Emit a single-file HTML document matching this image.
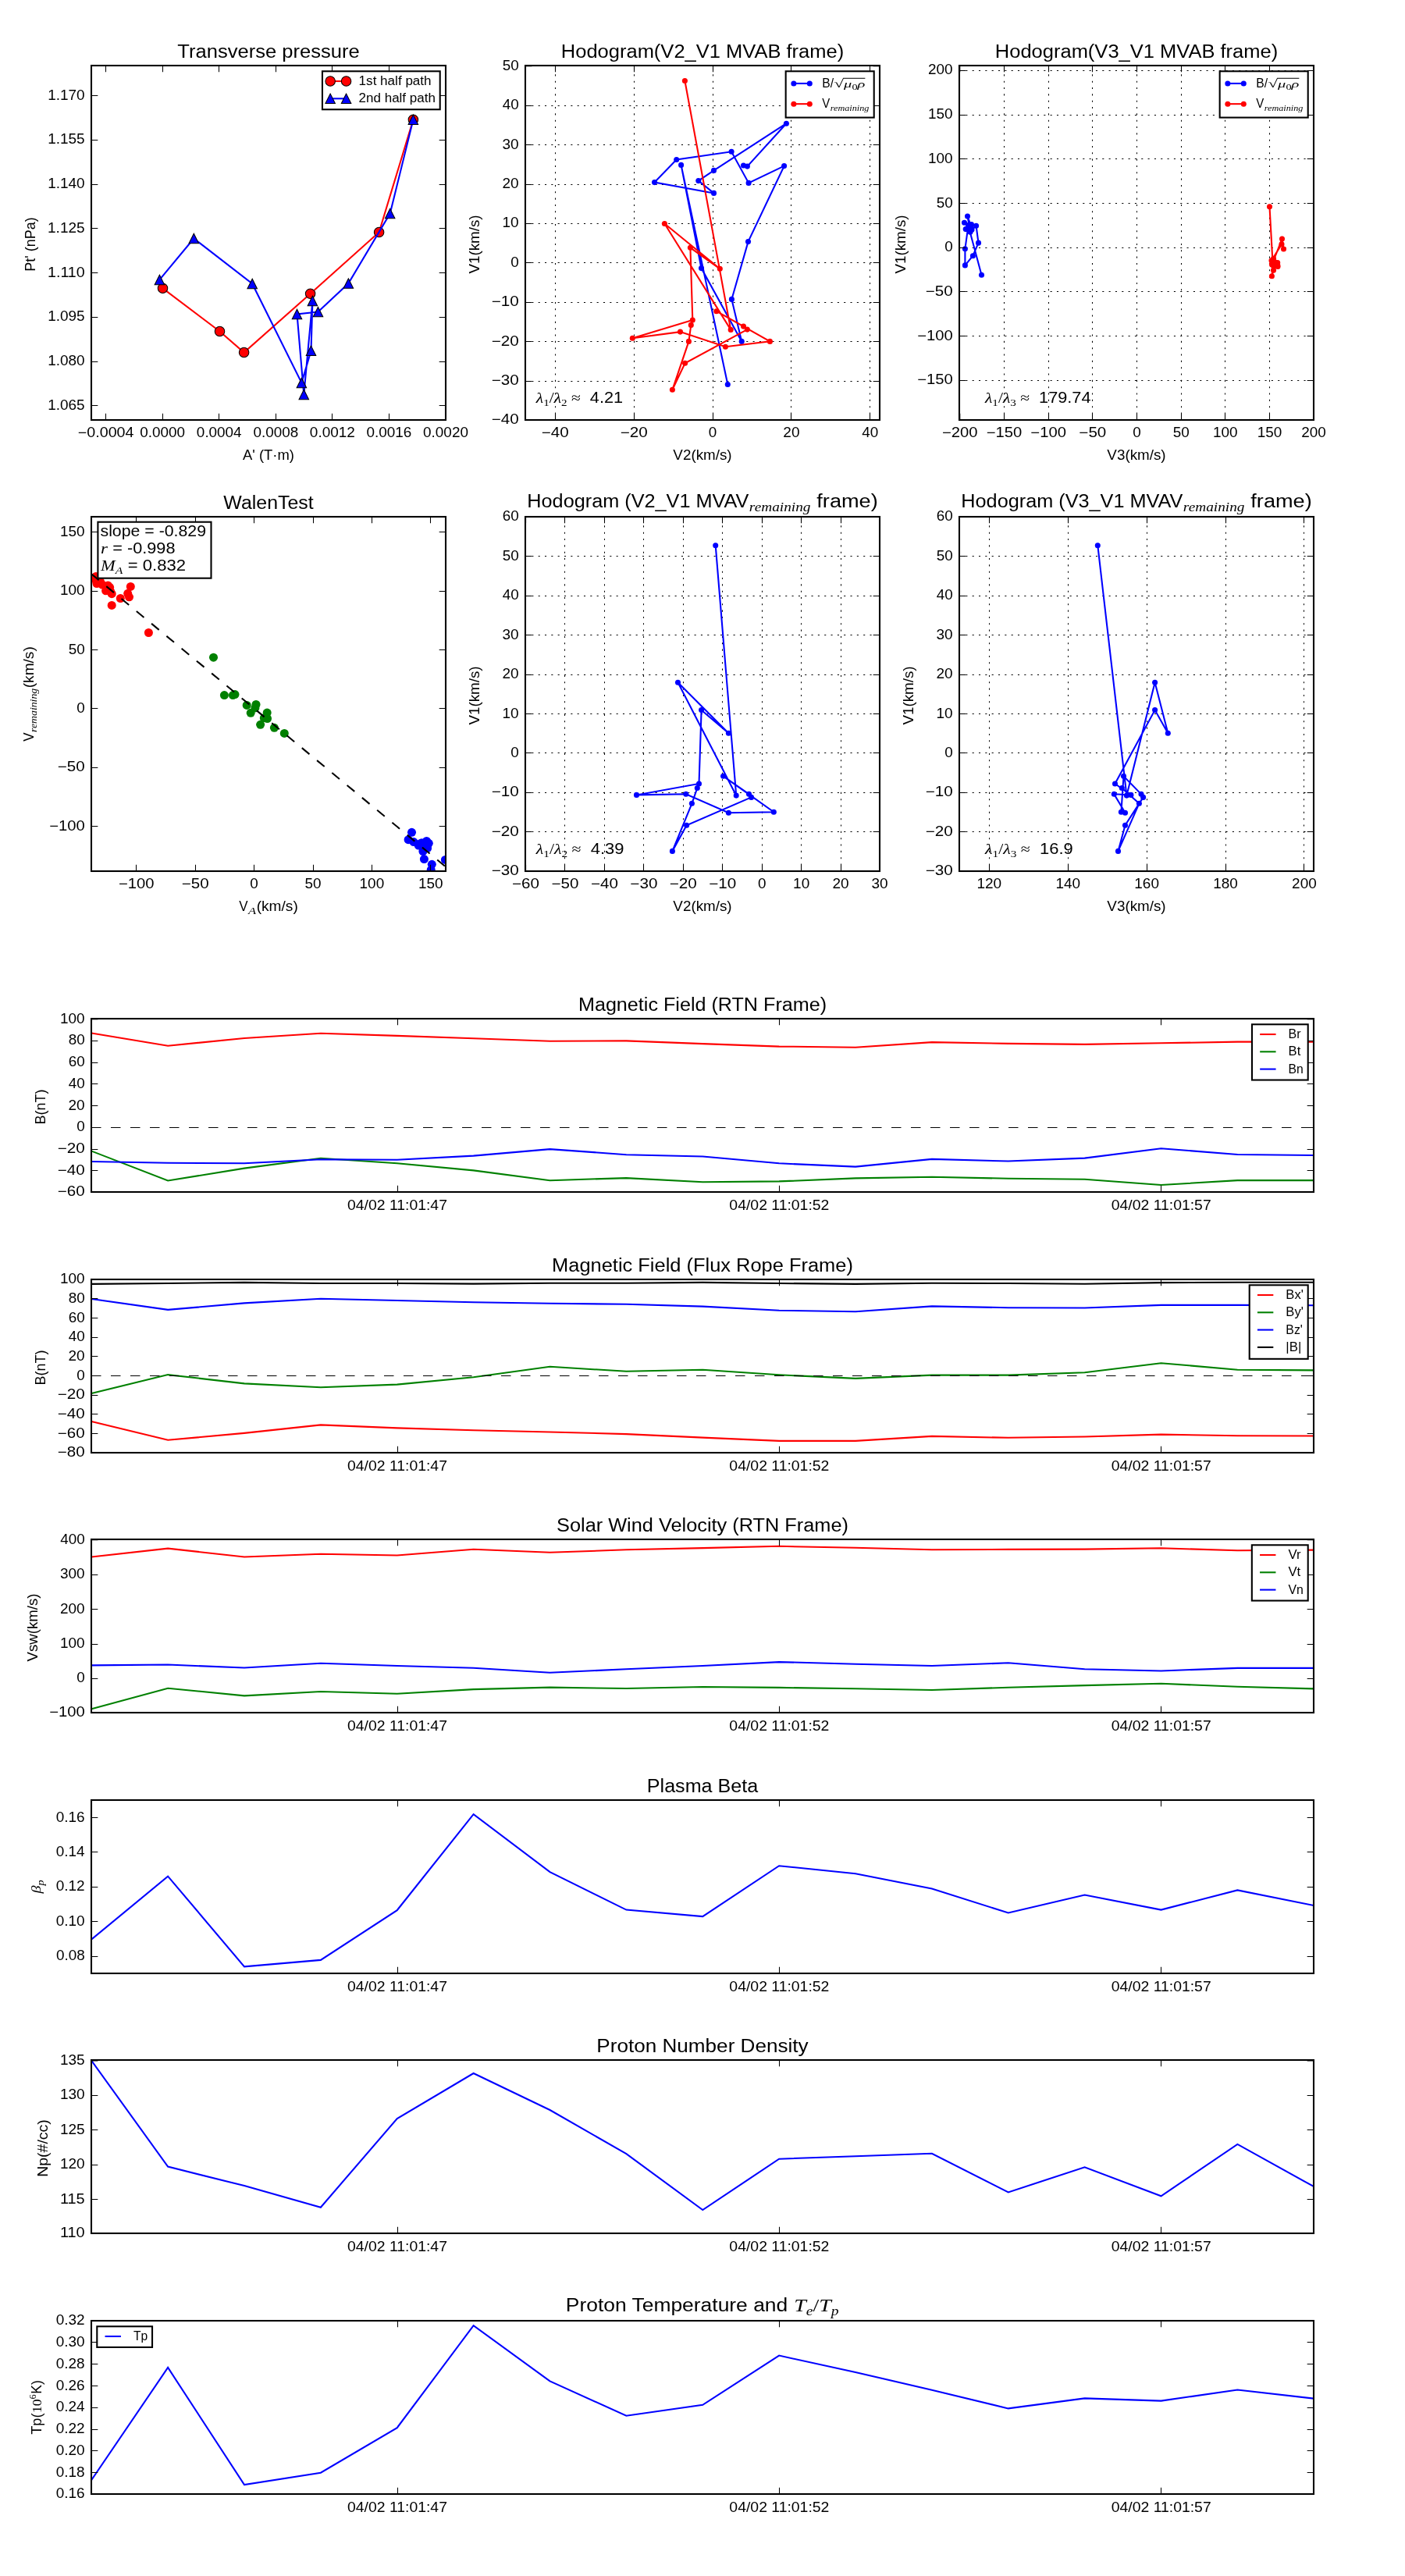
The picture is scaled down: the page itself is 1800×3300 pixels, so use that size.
<!DOCTYPE html>
<html><head><meta charset="utf-8"><title>Flux rope analysis</title>
<style>
html,body{margin:0;padding:0;background:#fff}
svg{display:block;will-change:transform}
text{font-family:"Liberation Sans",sans-serif;fill:#000;white-space:pre}
.mi{font-family:"Liberation Serif",serif;font-style:italic}
.mr{font-family:"Liberation Serif",serif}
path{fill:none}
g[fill] path{fill:inherit}
</style></head><body>
<svg width="1800" height="3300" viewBox="0 0 1800 3300">
<rect width="1800" height="3300" fill="#fff"/>
<defs>
<clipPath id="cp1"><rect x="117" y="84" width="454" height="454"/></clipPath>
<clipPath id="cp2"><rect x="673" y="84" width="454" height="454"/></clipPath>
<clipPath id="cp3"><rect x="1229" y="84" width="454" height="454"/></clipPath>
<clipPath id="cp4"><rect x="117" y="662" width="454" height="454"/></clipPath>
<clipPath id="cp5"><rect x="673" y="662" width="454" height="454"/></clipPath>
<clipPath id="cp6"><rect x="1229" y="662" width="454" height="454"/></clipPath>
<clipPath id="ct1"><rect x="117" y="1305" width="1566" height="222"/></clipPath>
<clipPath id="ct2"><rect x="117" y="1639" width="1566" height="222"/></clipPath>
<clipPath id="ct3"><rect x="117" y="1972" width="1566" height="222"/></clipPath>
<clipPath id="ct4"><rect x="117" y="2306" width="1566" height="222"/></clipPath>
<clipPath id="ct5"><rect x="117" y="2639" width="1566" height="222"/></clipPath>
<clipPath id="ct6"><rect x="117" y="2973" width="1566" height="222"/></clipPath>
</defs>
<g id="p1">
<g clip-path="url(#cp1)"><path d="M208.5 369.3L281.5 424.5L312.6 451.5L397.6 376.2L485.6 297.5L529.4 153.3" stroke="#f00" stroke-width="2.08"/><g fill="#f00" stroke="#000" stroke-width="1.04"><circle cx="208.5" cy="369.3" r="6.25"/><circle cx="281.5" cy="424.5" r="6.25"/><circle cx="312.6" cy="451.5" r="6.25"/><circle cx="397.6" cy="376.2" r="6.25"/><circle cx="485.6" cy="297.5" r="6.25"/><circle cx="529.4" cy="153.3" r="6.25"/></g></g>
<g clip-path="url(#cp1)"><path d="M204.4 358.4L248.3 305.5L323.2 363.5L386.4 490.4L398.5 449.3L400.4 385.5L389.3 505.4L380.5 402.4L407.5 399.6L446.4 363.1L499.7 273.6L529.4 153.3" stroke="#00f" stroke-width="2.08"/><g fill="#00f" stroke="#000" stroke-width="1.04"><path d="M204.4 352.15L198.15 364.65L210.65 364.65Z"/><path d="M248.3 299.25L242.05 311.75L254.55 311.75Z"/><path d="M323.2 357.25L316.95 369.75L329.45 369.75Z"/><path d="M386.4 484.15L380.15 496.65L392.65 496.65Z"/><path d="M398.5 443.05L392.25 455.55L404.75 455.55Z"/><path d="M400.4 379.25L394.15 391.75L406.65 391.75Z"/><path d="M389.3 499.15L383.05 511.65L395.55 511.65Z"/><path d="M380.5 396.15L374.25 408.65L386.75 408.65Z"/><path d="M407.5 393.35L401.25 405.85L413.75 405.85Z"/><path d="M446.4 356.85L440.15 369.35L452.65 369.35Z"/><path d="M499.7 267.35L493.45 279.85L505.95 279.85Z"/><path d="M529.4 147.05L523.15 159.55L535.65 159.55Z"/></g></g>
<rect x="117" y="84" width="454" height="454" fill="none" stroke="#000" stroke-width="2.08"/>
<path d="M135.5 538v-8.33M135.5 84v8.33M208.5 538v-8.33M208.5 84v8.33M280.5 538v-8.33M280.5 84v8.33M353.5 538v-8.33M353.5 84v8.33M425.5 538v-8.33M425.5 84v8.33M498.5 538v-8.33M498.5 84v8.33M571 538v-8.33M571 84v8.33M117 519.5h8.33M571 519.5h-8.33M117 463.5h8.33M571 463.5h-8.33M117 406.5h8.33M571 406.5h-8.33M117 349.5h8.33M571 349.5h-8.33M117 292.5h8.33M571 292.5h-8.33M117 236.5h8.33M571 236.5h-8.33M117 179.5h8.33M571 179.5h-8.33M117 122.5h8.33M571 122.5h-8.33" stroke="#000" stroke-width="1.04"/>
<text x="99.83" y="560.33" font-size="17.58" textLength="71.62" lengthAdjust="spacingAndGlyphs">−0.0004</text>
<text x="179.32" y="560.33" font-size="17.58" textLength="57.75" lengthAdjust="spacingAndGlyphs">0.0000</text>
<text x="251.88" y="560.33" font-size="17.58" textLength="57.75" lengthAdjust="spacingAndGlyphs">0.0004</text>
<text x="324.44" y="560.33" font-size="17.58" textLength="57.75" lengthAdjust="spacingAndGlyphs">0.0008</text>
<text x="396.88" y="560.33" font-size="17.58" textLength="58" lengthAdjust="spacingAndGlyphs">0.0012</text>
<text x="469.5" y="560.33" font-size="17.58" textLength="57.88" lengthAdjust="spacingAndGlyphs">0.0016</text>
<text x="542.06" y="560.33" font-size="17.58" textLength="57.88" lengthAdjust="spacingAndGlyphs">0.0020</text>
<text x="61.29" y="524.78" font-size="17.58" textLength="47.38" lengthAdjust="spacingAndGlyphs">1.065</text>
<text x="61.29" y="468.03" font-size="17.58" textLength="47.38" lengthAdjust="spacingAndGlyphs">1.080</text>
<text x="61.29" y="411.28" font-size="17.58" textLength="47.38" lengthAdjust="spacingAndGlyphs">1.095</text>
<text x="61.04" y="354.53" font-size="17.58" textLength="47.62" lengthAdjust="spacingAndGlyphs">1.110</text>
<text x="61.04" y="297.78" font-size="17.58" textLength="47.62" lengthAdjust="spacingAndGlyphs">1.125</text>
<text x="61.17" y="241.03" font-size="17.58" textLength="47.5" lengthAdjust="spacingAndGlyphs">1.140</text>
<text x="61.17" y="184.28" font-size="17.58" textLength="47.5" lengthAdjust="spacingAndGlyphs">1.155</text>
<text x="61.17" y="127.53" font-size="17.58" textLength="47.5" lengthAdjust="spacingAndGlyphs">1.170</text>
<text x="311.06" y="588.75" font-size="17.58" textLength="65.88" lengthAdjust="spacingAndGlyphs">A&#x27; (T·m)</text>
<g transform="translate(45.43 347.69) rotate(-90)">
<text x="0" y="0" font-size="17.58" textLength="69.38" lengthAdjust="spacingAndGlyphs">Pt&#x27; (nPa)</text>
</g>
<text x="227.32" y="73.58" font-size="24.18" textLength="233.37" lengthAdjust="spacingAndGlyphs">Transverse pressure</text>
<rect x="412.96" y="91.29" width="150.75" height="48.96" fill="#fff" stroke="#000" stroke-width="2.08"/>
<path d="M423.17 104.02L443.58 104.02" stroke="#f00" stroke-width="2.08"/>
<g fill="#f00" stroke="#000" stroke-width="1.04"><circle cx="423.17" cy="104.02" r="6.25"/><circle cx="443.58" cy="104.02" r="6.25"/></g>
<path d="M423.17 126.31L443.58 126.31" stroke="#00f" stroke-width="2.08"/>
<g fill="#00f" stroke="#000" stroke-width="1.04"><path d="M423.17 120.06L416.92 132.56L429.42 132.56Z"/><path d="M443.58 120.06L437.33 132.56L449.83 132.56Z"/></g>
<text x="459.62" y="109.12" font-size="17.06" textLength="93" lengthAdjust="spacingAndGlyphs">1st half path</text>
<text x="459.62" y="131.42" font-size="17.06" textLength="98.25" lengthAdjust="spacingAndGlyphs">2nd half path</text>
</g>
<g id="p2">
<path d="M711.5 538.9V84M812.5 538.9V84M913.5 538.9V84M1013.5 538.9V84M1114.5 538.9V84M673 488.5H1127M673 437.5H1127M673 387.5H1127M673 336.5H1127M673 286.5H1127M673 236.5H1127M673 185.5H1127M673 135.5H1127" stroke="#000" stroke-width="1.04" stroke-dasharray="2.08 6.25"/>
<g clip-path="url(#cp2)"><path d="M952.5 212L957.4 213.1L1007.4 158.2L914.5 218.4L894.8 231.6L914.5 247.4L838.5 233.6L866.7 204.5L937.1 194.3L959.1 234.4L1004.6 212.6L958.5 309.6L937.4 383.4L950.2 437.4L898.5 343.6L872.6 211.4L932.3 492.5" stroke="#00f" stroke-width="2.08"/><g fill="#00f"><circle cx="952.5" cy="212" r="3.53"/><circle cx="957.4" cy="213.1" r="3.53"/><circle cx="1007.4" cy="158.2" r="3.53"/><circle cx="914.5" cy="218.4" r="3.53"/><circle cx="894.8" cy="231.6" r="3.53"/><circle cx="914.5" cy="247.4" r="3.53"/><circle cx="838.5" cy="233.6" r="3.53"/><circle cx="866.7" cy="204.5" r="3.53"/><circle cx="937.1" cy="194.3" r="3.53"/><circle cx="959.1" cy="234.4" r="3.53"/><circle cx="1004.6" cy="212.6" r="3.53"/><circle cx="958.5" cy="309.6" r="3.53"/><circle cx="937.4" cy="383.4" r="3.53"/><circle cx="950.2" cy="437.4" r="3.53"/><circle cx="898.5" cy="343.6" r="3.53"/><circle cx="872.6" cy="211.4" r="3.53"/><circle cx="932.3" cy="492.5" r="3.53"/></g></g>
<g clip-path="url(#cp2)"><path d="M885.3 416.4L882.4 437.4L861.4 499.3L877.6 465.3L957.3 422.1L952.5 418.1L917.8 398.7L986.4 437.4L929.4 444.3L871.5 425.1L810.3 433.3L887.3 410.1L884.4 317.3L922.3 344.3L851.4 286.5L936.2 422.4L877.4 103.5" stroke="#f00" stroke-width="2.08"/><g fill="#f00"><circle cx="885.3" cy="416.4" r="3.53"/><circle cx="882.4" cy="437.4" r="3.53"/><circle cx="861.4" cy="499.3" r="3.53"/><circle cx="877.6" cy="465.3" r="3.53"/><circle cx="957.3" cy="422.1" r="3.53"/><circle cx="952.5" cy="418.1" r="3.53"/><circle cx="917.8" cy="398.7" r="3.53"/><circle cx="986.4" cy="437.4" r="3.53"/><circle cx="929.4" cy="444.3" r="3.53"/><circle cx="871.5" cy="425.1" r="3.53"/><circle cx="810.3" cy="433.3" r="3.53"/><circle cx="887.3" cy="410.1" r="3.53"/><circle cx="884.4" cy="317.3" r="3.53"/><circle cx="922.3" cy="344.3" r="3.53"/><circle cx="851.4" cy="286.5" r="3.53"/><circle cx="936.2" cy="422.4" r="3.53"/><circle cx="877.4" cy="103.5" r="3.53"/></g></g>
<rect x="673" y="84" width="454" height="454" fill="none" stroke="#000" stroke-width="2.08"/>
<path d="M711.5 538v-8.33M711.5 84v8.33M812.5 538v-8.33M812.5 84v8.33M913.5 538v-8.33M913.5 84v8.33M1013.5 538v-8.33M1013.5 84v8.33M1114.5 538v-8.33M1114.5 84v8.33M673 538h8.33M1127 538h-8.33M673 488.5h8.33M1127 488.5h-8.33M673 437.5h8.33M1127 437.5h-8.33M673 387.5h8.33M1127 387.5h-8.33M673 336.5h8.33M1127 336.5h-8.33M673 286.5h8.33M1127 286.5h-8.33M673 236.5h8.33M1127 236.5h-8.33M673 185.5h8.33M1127 185.5h-8.33M673 135.5h8.33M1127 135.5h-8.33M673 84.7h8.33M1127 84.7h-8.33" stroke="#000" stroke-width="1.04"/>
<text x="693.86" y="560.33" font-size="17.58" textLength="34.88" lengthAdjust="spacingAndGlyphs">−40</text>
<text x="794.67" y="560.33" font-size="17.58" textLength="35" lengthAdjust="spacingAndGlyphs">−20</text>
<text x="907.8" y="560.33" font-size="17.58" textLength="10.5" lengthAdjust="spacingAndGlyphs">0</text>
<text x="1003.36" y="560.33" font-size="17.58" textLength="21.12" lengthAdjust="spacingAndGlyphs">20</text>
<text x="1104.3" y="560.33" font-size="17.58" textLength="21" lengthAdjust="spacingAndGlyphs">40</text>
<text x="629.79" y="543" font-size="17.58" textLength="34.88" lengthAdjust="spacingAndGlyphs">−40</text>
<text x="629.67" y="493.22" font-size="17.58" textLength="35" lengthAdjust="spacingAndGlyphs">−30</text>
<text x="629.67" y="442.78" font-size="17.58" textLength="35" lengthAdjust="spacingAndGlyphs">−20</text>
<text x="629.67" y="392.34" font-size="17.58" textLength="35" lengthAdjust="spacingAndGlyphs">−10</text>
<text x="654.17" y="341.9" font-size="17.58" textLength="10.5" lengthAdjust="spacingAndGlyphs">0</text>
<text x="643.54" y="291.46" font-size="17.58" textLength="21.12" lengthAdjust="spacingAndGlyphs">10</text>
<text x="643.54" y="241.02" font-size="17.58" textLength="21.12" lengthAdjust="spacingAndGlyphs">20</text>
<text x="643.54" y="190.58" font-size="17.58" textLength="21.12" lengthAdjust="spacingAndGlyphs">30</text>
<text x="643.67" y="140.14" font-size="17.58" textLength="21" lengthAdjust="spacingAndGlyphs">40</text>
<text x="643.67" y="89.7" font-size="17.58" textLength="21" lengthAdjust="spacingAndGlyphs">50</text>
<text x="862.38" y="588.75" font-size="17.58" textLength="75.25" lengthAdjust="spacingAndGlyphs">V2(km/s)</text>
<g transform="translate(614.05 350.62) rotate(-90)">
<text x="0" y="0" font-size="17.58" textLength="75.25" lengthAdjust="spacingAndGlyphs">V1(km/s)</text>
</g>
<text x="718.8" y="73.58" font-size="24.18" textLength="362.4" lengthAdjust="spacingAndGlyphs">Hodogram(V2_V1 MVAB frame)</text>
<text x="686.8" y="515.8" font-size="19.78" textLength="62.48" lengthAdjust="spacingAndGlyphs"><tspan class="mi" font-size="19.12">λ</tspan><tspan class="mr" font-size="13.39" dy="4.21">1</tspan><tspan class="mr" font-size="19.12" dy="-4.21">/</tspan><tspan class="mi" font-size="19.12">λ</tspan><tspan class="mr" font-size="13.39" dy="4.21">2</tspan><tspan class="mr" font-size="19.12" dy="-4.21"> ≈ </tspan></text>
<text x="755.87" y="515.8" font-size="19.78" textLength="42.24" lengthAdjust="spacingAndGlyphs">4.21</text>
<rect x="1006.66" y="91.29" width="113.05" height="59.29" fill="#fff" stroke="#000" stroke-width="2.08"/>
<path d="M1016.87 106.93L1037.29 106.93" stroke="#00f" stroke-width="2.08"/>
<g fill="#00f"><circle cx="1016.87" cy="106.93" r="3.53"/><circle cx="1037.29" cy="106.93" r="3.53"/></g>
<path d="M1016.87 133.16L1037.29 133.16" stroke="#f00" stroke-width="2.08"/>
<g fill="#f00"><circle cx="1016.87" cy="133.16" r="3.53"/><circle cx="1037.29" cy="133.16" r="3.53"/></g>
<text x="1053.33" y="112.04" font-size="17.06" textLength="14.81" lengthAdjust="spacingAndGlyphs">B/</text>
<text x="1068.64" y="112.04" font-size="17.06" textLength="39.75" lengthAdjust="spacingAndGlyphs"><tspan class="mr" font-size="14.88">√</tspan><tspan class="mi" font-size="13.39">μ</tspan><tspan class="mr" font-size="9.37" dy="2.95">0</tspan><tspan class="mi" font-size="13.39" dy="-2.95">ρ</tspan></text><path d="M1080.12 100.29H1108.39" stroke="#000" stroke-width="1"/>
<text x="1053.33" y="138.26" font-size="17.06" textLength="10" lengthAdjust="spacingAndGlyphs">V</text>
<text x="1063.83" y="138.26" font-size="17.06" textLength="49.54" lengthAdjust="spacingAndGlyphs"><tspan class="mi" font-size="10.41" dy="3.27">remaining</tspan></text>
</g>
<g id="p3">
<path d="M1286.5 538.9V84M1343.5 538.9V84M1399.5 538.9V84M1456.5 538.9V84M1513.5 538.9V84M1569.5 538.9V84M1626.5 538.9V84M1229 487.5H1683M1229 430.5H1683M1229 373.5H1683M1229 317.5H1683M1229 260.5H1683M1229 203.5H1683M1229 147.5H1683M1229 90.5H1683" stroke="#000" stroke-width="1.04" stroke-dasharray="2.08 6.25"/>
<g clip-path="url(#cp3)"><path d="M1243 289.22L1244 289.46L1239.5 277.12L1242 290.65L1237.2 293.62L1243 297.17L1241 294.07L1244.5 287.53L1235.5 285.24L1245 294.25L1250.6 289.35L1253.5 311.15L1246.4 327.74L1236.4 339.88L1236.4 318.8L1240.5 289.08L1257.5 352.27" stroke="#00f" stroke-width="2.08"/><g fill="#00f"><circle cx="1243" cy="289.22" r="3.53"/><circle cx="1244" cy="289.46" r="3.53"/><circle cx="1239.5" cy="277.12" r="3.53"/><circle cx="1242" cy="290.65" r="3.53"/><circle cx="1237.2" cy="293.62" r="3.53"/><circle cx="1243" cy="297.17" r="3.53"/><circle cx="1241" cy="294.07" r="3.53"/><circle cx="1244.5" cy="287.53" r="3.53"/><circle cx="1235.5" cy="285.24" r="3.53"/><circle cx="1245" cy="294.25" r="3.53"/><circle cx="1250.6" cy="289.35" r="3.53"/><circle cx="1253.5" cy="311.15" r="3.53"/><circle cx="1246.4" cy="327.74" r="3.53"/><circle cx="1236.4" cy="339.88" r="3.53"/><circle cx="1236.4" cy="318.8" r="3.53"/><circle cx="1240.5" cy="289.08" r="3.53"/><circle cx="1257.5" cy="352.27" r="3.53"/></g></g>
<g clip-path="url(#cp3)"><path d="M1630 335.16L1631 339.88L1629.4 353.79L1631.5 346.15L1636.7 336.44L1633 335.54L1631.5 331.18L1636.8 339.88L1637 341.43L1630 337.12L1629.5 338.96L1629 333.74L1642 312.88L1644.5 318.95L1642.5 305.96L1630.5 336.51L1626.5 264.83" stroke="#f00" stroke-width="2.08"/><g fill="#f00"><circle cx="1630" cy="335.16" r="3.53"/><circle cx="1631" cy="339.88" r="3.53"/><circle cx="1629.4" cy="353.79" r="3.53"/><circle cx="1631.5" cy="346.15" r="3.53"/><circle cx="1636.7" cy="336.44" r="3.53"/><circle cx="1633" cy="335.54" r="3.53"/><circle cx="1631.5" cy="331.18" r="3.53"/><circle cx="1636.8" cy="339.88" r="3.53"/><circle cx="1637" cy="341.43" r="3.53"/><circle cx="1630" cy="337.12" r="3.53"/><circle cx="1629.5" cy="338.96" r="3.53"/><circle cx="1629" cy="333.74" r="3.53"/><circle cx="1642" cy="312.88" r="3.53"/><circle cx="1644.5" cy="318.95" r="3.53"/><circle cx="1642.5" cy="305.96" r="3.53"/><circle cx="1630.5" cy="336.51" r="3.53"/><circle cx="1626.5" cy="264.83" r="3.53"/></g></g>
<rect x="1229" y="84" width="454" height="454" fill="none" stroke="#000" stroke-width="2.08"/>
<path d="M1229.77 538v-8.33M1229.77 84v8.33M1286.5 538v-8.33M1286.5 84v8.33M1343.5 538v-8.33M1343.5 84v8.33M1399.5 538v-8.33M1399.5 84v8.33M1456.5 538v-8.33M1456.5 84v8.33M1513.5 538v-8.33M1513.5 84v8.33M1569.5 538v-8.33M1569.5 84v8.33M1626.5 538v-8.33M1626.5 84v8.33M1683 538v-8.33M1683 84v8.33M1229 487.5h8.33M1683 487.5h-8.33M1229 430.5h8.33M1683 430.5h-8.33M1229 373.5h8.33M1683 373.5h-8.33M1229 317.5h8.33M1683 317.5h-8.33M1229 260.5h8.33M1683 260.5h-8.33M1229 203.5h8.33M1683 203.5h-8.33M1229 147.5h8.33M1683 147.5h-8.33M1229 90.5h8.33M1683 90.5h-8.33" stroke="#000" stroke-width="1.04"/>
<text x="1207.02" y="560.33" font-size="17.58" textLength="45.5" lengthAdjust="spacingAndGlyphs">−200</text>
<text x="1263.7" y="560.33" font-size="17.58" textLength="45.5" lengthAdjust="spacingAndGlyphs">−150</text>
<text x="1320.38" y="560.33" font-size="17.58" textLength="45.5" lengthAdjust="spacingAndGlyphs">−100</text>
<text x="1382.38" y="560.33" font-size="17.58" textLength="34.88" lengthAdjust="spacingAndGlyphs">−50</text>
<text x="1451.25" y="560.33" font-size="17.58" textLength="10.5" lengthAdjust="spacingAndGlyphs">0</text>
<text x="1502.68" y="560.33" font-size="17.58" textLength="21" lengthAdjust="spacingAndGlyphs">50</text>
<text x="1554.05" y="560.33" font-size="17.58" textLength="31.62" lengthAdjust="spacingAndGlyphs">100</text>
<text x="1610.74" y="560.33" font-size="17.58" textLength="31.62" lengthAdjust="spacingAndGlyphs">150</text>
<text x="1667.19" y="560.33" font-size="17.58" textLength="31.62" lengthAdjust="spacingAndGlyphs">200</text>
<text x="1175.17" y="492.3" font-size="17.58" textLength="45.5" lengthAdjust="spacingAndGlyphs">−150</text>
<text x="1175.17" y="435.6" font-size="17.58" textLength="45.5" lengthAdjust="spacingAndGlyphs">−100</text>
<text x="1185.79" y="378.9" font-size="17.58" textLength="34.88" lengthAdjust="spacingAndGlyphs">−50</text>
<text x="1210.17" y="322.2" font-size="17.58" textLength="10.5" lengthAdjust="spacingAndGlyphs">0</text>
<text x="1199.67" y="265.5" font-size="17.58" textLength="21" lengthAdjust="spacingAndGlyphs">50</text>
<text x="1189.04" y="208.8" font-size="17.58" textLength="31.62" lengthAdjust="spacingAndGlyphs">100</text>
<text x="1189.04" y="152.1" font-size="17.58" textLength="31.62" lengthAdjust="spacingAndGlyphs">150</text>
<text x="1189.04" y="95.4" font-size="17.58" textLength="31.62" lengthAdjust="spacingAndGlyphs">200</text>
<text x="1418.38" y="588.75" font-size="17.58" textLength="75.25" lengthAdjust="spacingAndGlyphs">V3(km/s)</text>
<g transform="translate(1159.55 350.62) rotate(-90)">
<text x="0" y="0" font-size="17.58" textLength="75.25" lengthAdjust="spacingAndGlyphs">V1(km/s)</text>
</g>
<text x="1274.8" y="73.58" font-size="24.18" textLength="362.4" lengthAdjust="spacingAndGlyphs">Hodogram(V3_V1 MVAB frame)</text>
<text x="1262" y="515.8" font-size="19.78" textLength="62.51" lengthAdjust="spacingAndGlyphs"><tspan class="mi" font-size="19.12">λ</tspan><tspan class="mr" font-size="13.39" dy="4.21">1</tspan><tspan class="mr" font-size="19.12" dy="-4.21">/</tspan><tspan class="mi" font-size="19.12">λ</tspan><tspan class="mr" font-size="13.39" dy="4.21">3</tspan><tspan class="mr" font-size="19.12" dy="-4.21"> ≈ </tspan></text>
<text x="1331.1" y="515.8" font-size="19.78" textLength="66.38" lengthAdjust="spacingAndGlyphs">179.74</text>
<rect x="1562.66" y="91.29" width="113.05" height="59.29" fill="#fff" stroke="#000" stroke-width="2.08"/>
<path d="M1572.87 106.93L1593.29 106.93" stroke="#00f" stroke-width="2.08"/>
<g fill="#00f"><circle cx="1572.87" cy="106.93" r="3.53"/><circle cx="1593.29" cy="106.93" r="3.53"/></g>
<path d="M1572.87 133.16L1593.29 133.16" stroke="#f00" stroke-width="2.08"/>
<g fill="#f00"><circle cx="1572.87" cy="133.16" r="3.53"/><circle cx="1593.29" cy="133.16" r="3.53"/></g>
<text x="1609.33" y="112.04" font-size="17.06" textLength="14.81" lengthAdjust="spacingAndGlyphs">B/</text>
<text x="1624.64" y="112.04" font-size="17.06" textLength="39.75" lengthAdjust="spacingAndGlyphs"><tspan class="mr" font-size="14.88">√</tspan><tspan class="mi" font-size="13.39">μ</tspan><tspan class="mr" font-size="9.37" dy="2.95">0</tspan><tspan class="mi" font-size="13.39" dy="-2.95">ρ</tspan></text><path d="M1636.12 100.29H1664.39" stroke="#000" stroke-width="1"/>
<text x="1609.33" y="138.26" font-size="17.06" textLength="10" lengthAdjust="spacingAndGlyphs">V</text>
<text x="1619.83" y="138.26" font-size="17.06" textLength="49.54" lengthAdjust="spacingAndGlyphs"><tspan class="mi" font-size="10.41" dy="3.27">remaining</tspan></text>
</g>
<g id="p4">
<g clip-path="url(#cp4)" fill="#f00"><circle cx="122.8" cy="738.4" r="5.51"/><circle cx="124" cy="747.5" r="5.51"/><circle cx="128.5" cy="745.2" r="5.51"/><circle cx="138.3" cy="750" r="5.51"/><circle cx="140.6" cy="752.3" r="5.51"/><circle cx="135.6" cy="756.8" r="5.51"/><circle cx="143.2" cy="760.7" r="5.51"/><circle cx="167.3" cy="751.4" r="5.51"/><circle cx="163.7" cy="760.3" r="5.51"/><circle cx="165.5" cy="764.8" r="5.51"/><circle cx="154.3" cy="766.5" r="5.51"/><circle cx="143.2" cy="775.4" r="5.51"/><circle cx="190.4" cy="810.5" r="5.51"/><circle cx="119" cy="741" r="5.51"/><circle cx="131" cy="749" r="5.51"/><circle cx="137" cy="753" r="5.51"/><circle cx="141.5" cy="757.5" r="5.51"/></g>
<g clip-path="url(#cp4)" fill="#008000"><circle cx="273.5" cy="842.2" r="5.51"/><circle cx="287.4" cy="890.6" r="5.51"/><circle cx="298.4" cy="890.6" r="5.51"/><circle cx="301" cy="889.6" r="5.51"/><circle cx="316.2" cy="903.4" r="5.51"/><circle cx="328" cy="902.4" r="5.51"/><circle cx="326.9" cy="906.9" r="5.51"/><circle cx="321.2" cy="913.3" r="5.51"/><circle cx="342.2" cy="913.1" r="5.51"/><circle cx="338.3" cy="919.8" r="5.51"/><circle cx="342.5" cy="920.5" r="5.51"/><circle cx="333.6" cy="928.3" r="5.51"/><circle cx="351.4" cy="932.3" r="5.51"/><circle cx="364.3" cy="939.4" r="5.51"/></g>
<g clip-path="url(#cp4)" fill="#00f"><circle cx="527.5" cy="1066.3" r="5.51"/><circle cx="523.1" cy="1075.7" r="5.51"/><circle cx="530" cy="1078.6" r="5.51"/><circle cx="536.2" cy="1083.1" r="5.51"/><circle cx="540.2" cy="1079.7" r="5.51"/><circle cx="546.5" cy="1077.4" r="5.51"/><circle cx="549.3" cy="1080.3" r="5.51"/><circle cx="547.6" cy="1086.6" r="5.51"/><circle cx="544.2" cy="1084.3" r="5.51"/><circle cx="541.9" cy="1090.5" r="5.51"/><circle cx="543.4" cy="1100.6" r="5.51"/><circle cx="553.3" cy="1107.3" r="5.51"/><circle cx="552.2" cy="1114.5" r="5.51"/><circle cx="570.4" cy="1101.4" r="5.51"/><circle cx="538" cy="1081" r="5.51"/><circle cx="543" cy="1082" r="5.51"/><circle cx="545.5" cy="1079" r="5.51"/></g>
<g clip-path="url(#cp4)"><path d="M117 735.19L571 1110.42" stroke="#000" stroke-width="2.08" stroke-dasharray="12.5 12.5"/></g>
<rect x="117" y="662" width="454" height="454" fill="none" stroke="#000" stroke-width="2.08"/>
<path d="M174.5 1116v-8.33M174.5 662v8.33M250.5 1116v-8.33M250.5 662v8.33M325.5 1116v-8.33M325.5 662v8.33M401.5 1116v-8.33M401.5 662v8.33M476.5 1116v-8.33M476.5 662v8.33M551.5 1116v-8.33M551.5 662v8.33M117 1058.5h8.33M571 1058.5h-8.33M117 983.5h8.33M571 983.5h-8.33M117 907.5h8.33M571 907.5h-8.33M117 832.5h8.33M571 832.5h-8.33M117 757.5h8.33M571 757.5h-8.33M117 681.5h8.33M571 681.5h-8.33" stroke="#000" stroke-width="1.04"/>
<text x="152.05" y="1138.33" font-size="17.58" textLength="45.5" lengthAdjust="spacingAndGlyphs">−100</text>
<text x="232.76" y="1138.33" font-size="17.58" textLength="34.88" lengthAdjust="spacingAndGlyphs">−50</text>
<text x="320.35" y="1138.33" font-size="17.58" textLength="10.5" lengthAdjust="spacingAndGlyphs">0</text>
<text x="390.5" y="1138.33" font-size="17.58" textLength="21" lengthAdjust="spacingAndGlyphs">50</text>
<text x="460.59" y="1138.33" font-size="17.58" textLength="31.62" lengthAdjust="spacingAndGlyphs">100</text>
<text x="535.99" y="1138.33" font-size="17.58" textLength="31.62" lengthAdjust="spacingAndGlyphs">150</text>
<text x="63.17" y="1063.65" font-size="17.58" textLength="45.5" lengthAdjust="spacingAndGlyphs">−100</text>
<text x="73.79" y="988.28" font-size="17.58" textLength="34.88" lengthAdjust="spacingAndGlyphs">−50</text>
<text x="98.17" y="912.9" font-size="17.58" textLength="10.5" lengthAdjust="spacingAndGlyphs">0</text>
<text x="87.67" y="837.53" font-size="17.58" textLength="21" lengthAdjust="spacingAndGlyphs">50</text>
<text x="77.04" y="762.15" font-size="17.58" textLength="31.62" lengthAdjust="spacingAndGlyphs">100</text>
<text x="77.04" y="686.78" font-size="17.58" textLength="31.62" lengthAdjust="spacingAndGlyphs">150</text>
<text x="306.21" y="1167.25" font-size="17.58" textLength="11.34" lengthAdjust="spacingAndGlyphs">V</text>
<text x="318.05" y="1167.25" font-size="17.58" textLength="10.13" lengthAdjust="spacingAndGlyphs"><tspan class="mi" font-size="11.9" dy="3.74">A</tspan></text>
<text x="328.69" y="1167.25" font-size="17.58" textLength="53.1" lengthAdjust="spacingAndGlyphs">(km/s)</text>
<g transform="translate(43.42 949.76) rotate(-90)">
<text x="0" y="0" font-size="17.58" textLength="11.32" lengthAdjust="spacingAndGlyphs">V</text>
<text x="11.82" y="0" font-size="17.58" textLength="56.21" lengthAdjust="spacingAndGlyphs"><tspan class="mi" font-size="11.9" dy="3.74">remaining</tspan></text>
<text x="68.53" y="0" font-size="17.58" textLength="52.99" lengthAdjust="spacingAndGlyphs">(km/s)</text>
</g>
<text x="286.38" y="651.58" font-size="24.18" textLength="115.25" lengthAdjust="spacingAndGlyphs">WalenTest</text>
</g>
<g id="p5">
<path d="M723.5 1116.9V662M774.5 1116.9V662M824.5 1116.9V662M875.5 1116.9V662M925.5 1116.9V662M976.5 1116.9V662M1026.5 1116.9V662M1077.5 1116.9V662M673 1065.5H1127M673 1015.5H1127M673 964.5H1127M673 914.5H1127M673 864.5H1127M673 813.5H1127M673 763.5H1127M673 712.5H1127" stroke="#000" stroke-width="1.04" stroke-dasharray="2.08 6.25"/>
<g clip-path="url(#cp5)"><path d="M893.3 1009.5L886.4 1029.3L861.4 1090.4L879.6 1057.3L962.5 1021.4L959.5 1017.3L926.6 994.3L991.3 1040.2L933.4 1041.3L878.8 1017.3L815.5 1018.4L895.5 1004L898.6 909.6L933.4 939.2L868.5 874.2L943.2 1019.1L916.7 698.7" stroke="#00f" stroke-width="2.08"/><g fill="#00f"><circle cx="893.3" cy="1009.5" r="3.53"/><circle cx="886.4" cy="1029.3" r="3.53"/><circle cx="861.4" cy="1090.4" r="3.53"/><circle cx="879.6" cy="1057.3" r="3.53"/><circle cx="962.5" cy="1021.4" r="3.53"/><circle cx="959.5" cy="1017.3" r="3.53"/><circle cx="926.6" cy="994.3" r="3.53"/><circle cx="991.3" cy="1040.2" r="3.53"/><circle cx="933.4" cy="1041.3" r="3.53"/><circle cx="878.8" cy="1017.3" r="3.53"/><circle cx="815.5" cy="1018.4" r="3.53"/><circle cx="895.5" cy="1004" r="3.53"/><circle cx="898.6" cy="909.6" r="3.53"/><circle cx="933.4" cy="939.2" r="3.53"/><circle cx="868.5" cy="874.2" r="3.53"/><circle cx="943.2" cy="1019.1" r="3.53"/><circle cx="916.7" cy="698.7" r="3.53"/></g></g>
<rect x="673" y="662" width="454" height="454" fill="none" stroke="#000" stroke-width="2.08"/>
<path d="M673.56 1116v-8.33M673.56 662v8.33M723.5 1116v-8.33M723.5 662v8.33M774.5 1116v-8.33M774.5 662v8.33M824.5 1116v-8.33M824.5 662v8.33M875.5 1116v-8.33M875.5 662v8.33M925.5 1116v-8.33M925.5 662v8.33M976.5 1116v-8.33M976.5 662v8.33M1026.5 1116v-8.33M1026.5 662v8.33M1077.5 1116v-8.33M1077.5 662v8.33M1127 1116v-8.33M1127 662v8.33M673 1116h8.33M1127 1116h-8.33M673 1065.5h8.33M1127 1065.5h-8.33M673 1015.5h8.33M1127 1015.5h-8.33M673 964.5h8.33M1127 964.5h-8.33M673 914.5h8.33M1127 914.5h-8.33M673 864.5h8.33M1127 864.5h-8.33M673 813.5h8.33M1127 813.5h-8.33M673 763.5h8.33M1127 763.5h-8.33M673 712.5h8.33M1127 712.5h-8.33M673 662.3h8.33M1127 662.3h-8.33" stroke="#000" stroke-width="1.04"/>
<text x="656.12" y="1138.33" font-size="17.58" textLength="34.88" lengthAdjust="spacingAndGlyphs">−60</text>
<text x="706.56" y="1138.33" font-size="17.58" textLength="34.88" lengthAdjust="spacingAndGlyphs">−50</text>
<text x="757" y="1138.33" font-size="17.58" textLength="34.88" lengthAdjust="spacingAndGlyphs">−40</text>
<text x="807.38" y="1138.33" font-size="17.58" textLength="35" lengthAdjust="spacingAndGlyphs">−30</text>
<text x="857.82" y="1138.33" font-size="17.58" textLength="35" lengthAdjust="spacingAndGlyphs">−20</text>
<text x="908.26" y="1138.33" font-size="17.58" textLength="35" lengthAdjust="spacingAndGlyphs">−10</text>
<text x="970.95" y="1138.33" font-size="17.58" textLength="10.5" lengthAdjust="spacingAndGlyphs">0</text>
<text x="1016.08" y="1138.33" font-size="17.58" textLength="21.12" lengthAdjust="spacingAndGlyphs">10</text>
<text x="1066.52" y="1138.33" font-size="17.58" textLength="21.12" lengthAdjust="spacingAndGlyphs">20</text>
<text x="1116.44" y="1138.33" font-size="17.58" textLength="21.12" lengthAdjust="spacingAndGlyphs">30</text>
<text x="629.67" y="1121" font-size="17.58" textLength="35" lengthAdjust="spacingAndGlyphs">−30</text>
<text x="629.67" y="1070.86" font-size="17.58" textLength="35" lengthAdjust="spacingAndGlyphs">−20</text>
<text x="629.67" y="1020.41" font-size="17.58" textLength="35" lengthAdjust="spacingAndGlyphs">−10</text>
<text x="654.17" y="969.97" font-size="17.58" textLength="10.5" lengthAdjust="spacingAndGlyphs">0</text>
<text x="643.54" y="919.52" font-size="17.58" textLength="21.12" lengthAdjust="spacingAndGlyphs">10</text>
<text x="643.54" y="869.08" font-size="17.58" textLength="21.12" lengthAdjust="spacingAndGlyphs">20</text>
<text x="643.54" y="818.63" font-size="17.58" textLength="21.12" lengthAdjust="spacingAndGlyphs">30</text>
<text x="643.67" y="768.19" font-size="17.58" textLength="21" lengthAdjust="spacingAndGlyphs">40</text>
<text x="643.67" y="717.74" font-size="17.58" textLength="21" lengthAdjust="spacingAndGlyphs">50</text>
<text x="643.67" y="667.3" font-size="17.58" textLength="21" lengthAdjust="spacingAndGlyphs">60</text>
<text x="862.38" y="1166.75" font-size="17.58" textLength="75.25" lengthAdjust="spacingAndGlyphs">V2(km/s)</text>
<g transform="translate(614.05 928.62) rotate(-90)">
<text x="0" y="0" font-size="17.58" textLength="75.25" lengthAdjust="spacingAndGlyphs">V1(km/s)</text>
</g>
<text x="675.3" y="649.58" font-size="24.18" textLength="284.06" lengthAdjust="spacingAndGlyphs">Hodogram (V2_V1 MVAV</text>
<text x="959.86" y="649.58" font-size="24.18" textLength="78.6" lengthAdjust="spacingAndGlyphs"><tspan class="mi" font-size="16.36" dy="5.14">remaining</tspan></text>
<text x="1046.34" y="649.58" font-size="24.18" textLength="78.36" lengthAdjust="spacingAndGlyphs">frame)</text>
<text x="686.8" y="1093.8" font-size="19.78" textLength="63.26" lengthAdjust="spacingAndGlyphs"><tspan class="mi" font-size="19.12">λ</tspan><tspan class="mr" font-size="13.39" dy="4.21">1</tspan><tspan class="mr" font-size="19.12" dy="-4.21">/</tspan><tspan class="mi" font-size="19.12">λ</tspan><tspan class="mr" font-size="13.39" dy="4.21">2</tspan><tspan class="mr" font-size="19.12" dy="-4.21"> ≈ </tspan></text>
<text x="756.72" y="1093.8" font-size="19.78" textLength="42.76" lengthAdjust="spacingAndGlyphs">4.39</text>
</g>
<g id="p6">
<path d="M1267.5 1116.9V662M1368.5 1116.9V662M1469.5 1116.9V662M1570.5 1116.9V662M1670.5 1116.9V662M1229 1065.5H1683M1229 1015.5H1683M1229 964.5H1683M1229 914.5H1683M1229 864.5H1683M1229 813.5H1683M1229 763.5H1683M1229 712.5H1683" stroke="#000" stroke-width="1.04" stroke-dasharray="2.08 6.25"/>
<g clip-path="url(#cp6)"><path d="M1437.3 1009.5L1459.4 1029.3L1432.5 1090.4L1441.5 1057.3L1464.6 1021.4L1462 1017.3L1439.5 994.3L1436.4 1040.2L1441.5 1041.3L1427.3 1017.3L1448.9 1018.4L1428.5 1004L1479.6 909.6L1496.3 939.2L1479.6 874.2L1443.4 1019.1L1406.3 698.7" stroke="#00f" stroke-width="2.08"/><g fill="#00f"><circle cx="1437.3" cy="1009.5" r="3.53"/><circle cx="1459.4" cy="1029.3" r="3.53"/><circle cx="1432.5" cy="1090.4" r="3.53"/><circle cx="1441.5" cy="1057.3" r="3.53"/><circle cx="1464.6" cy="1021.4" r="3.53"/><circle cx="1462" cy="1017.3" r="3.53"/><circle cx="1439.5" cy="994.3" r="3.53"/><circle cx="1436.4" cy="1040.2" r="3.53"/><circle cx="1441.5" cy="1041.3" r="3.53"/><circle cx="1427.3" cy="1017.3" r="3.53"/><circle cx="1448.9" cy="1018.4" r="3.53"/><circle cx="1428.5" cy="1004" r="3.53"/><circle cx="1479.6" cy="909.6" r="3.53"/><circle cx="1496.3" cy="939.2" r="3.53"/><circle cx="1479.6" cy="874.2" r="3.53"/><circle cx="1443.4" cy="1019.1" r="3.53"/><circle cx="1406.3" cy="698.7" r="3.53"/></g></g>
<rect x="1229" y="662" width="454" height="454" fill="none" stroke="#000" stroke-width="2.08"/>
<path d="M1267.5 1116v-8.33M1267.5 662v8.33M1368.5 1116v-8.33M1368.5 662v8.33M1469.5 1116v-8.33M1469.5 662v8.33M1570.5 1116v-8.33M1570.5 662v8.33M1670.5 1116v-8.33M1670.5 662v8.33M1229 1116h8.33M1683 1116h-8.33M1229 1065.5h8.33M1683 1065.5h-8.33M1229 1015.5h8.33M1683 1015.5h-8.33M1229 964.5h8.33M1683 964.5h-8.33M1229 914.5h8.33M1683 914.5h-8.33M1229 864.5h8.33M1683 864.5h-8.33M1229 813.5h8.33M1683 813.5h-8.33M1229 763.5h8.33M1683 763.5h-8.33M1229 712.5h8.33M1683 712.5h-8.33M1229 662.3h8.33M1683 662.3h-8.33" stroke="#000" stroke-width="1.04"/>
<text x="1251.48" y="1138.33" font-size="17.58" textLength="31.75" lengthAdjust="spacingAndGlyphs">120</text>
<text x="1352.44" y="1138.33" font-size="17.58" textLength="31.62" lengthAdjust="spacingAndGlyphs">140</text>
<text x="1453.34" y="1138.33" font-size="17.58" textLength="31.62" lengthAdjust="spacingAndGlyphs">160</text>
<text x="1554.24" y="1138.33" font-size="17.58" textLength="31.62" lengthAdjust="spacingAndGlyphs">180</text>
<text x="1655.14" y="1138.33" font-size="17.58" textLength="31.62" lengthAdjust="spacingAndGlyphs">200</text>
<text x="1185.67" y="1121" font-size="17.58" textLength="35" lengthAdjust="spacingAndGlyphs">−30</text>
<text x="1185.67" y="1070.86" font-size="17.58" textLength="35" lengthAdjust="spacingAndGlyphs">−20</text>
<text x="1185.67" y="1020.41" font-size="17.58" textLength="35" lengthAdjust="spacingAndGlyphs">−10</text>
<text x="1210.17" y="969.97" font-size="17.58" textLength="10.5" lengthAdjust="spacingAndGlyphs">0</text>
<text x="1199.54" y="919.52" font-size="17.58" textLength="21.12" lengthAdjust="spacingAndGlyphs">10</text>
<text x="1199.54" y="869.08" font-size="17.58" textLength="21.12" lengthAdjust="spacingAndGlyphs">20</text>
<text x="1199.54" y="818.63" font-size="17.58" textLength="21.12" lengthAdjust="spacingAndGlyphs">30</text>
<text x="1199.67" y="768.19" font-size="17.58" textLength="21" lengthAdjust="spacingAndGlyphs">40</text>
<text x="1199.67" y="717.74" font-size="17.58" textLength="21" lengthAdjust="spacingAndGlyphs">50</text>
<text x="1199.67" y="667.3" font-size="17.58" textLength="21" lengthAdjust="spacingAndGlyphs">60</text>
<text x="1418.38" y="1166.75" font-size="17.58" textLength="75.25" lengthAdjust="spacingAndGlyphs">V3(km/s)</text>
<g transform="translate(1170.05 928.62) rotate(-90)">
<text x="0" y="0" font-size="17.58" textLength="75.25" lengthAdjust="spacingAndGlyphs">V1(km/s)</text>
</g>
<text x="1231.3" y="649.58" font-size="24.18" textLength="284.06" lengthAdjust="spacingAndGlyphs">Hodogram (V3_V1 MVAV</text>
<text x="1515.86" y="649.58" font-size="24.18" textLength="78.6" lengthAdjust="spacingAndGlyphs"><tspan class="mi" font-size="16.36" dy="5.14">remaining</tspan></text>
<text x="1602.34" y="649.58" font-size="24.18" textLength="78.36" lengthAdjust="spacingAndGlyphs">frame)</text>
<text x="1262" y="1093.8" font-size="19.78" textLength="63.33" lengthAdjust="spacingAndGlyphs"><tspan class="mi" font-size="19.12">λ</tspan><tspan class="mr" font-size="13.39" dy="4.21">1</tspan><tspan class="mr" font-size="19.12" dy="-4.21">/</tspan><tspan class="mi" font-size="19.12">λ</tspan><tspan class="mr" font-size="13.39" dy="4.21">3</tspan><tspan class="mr" font-size="19.12" dy="-4.21"> ≈ </tspan></text>
<text x="1332" y="1093.8" font-size="19.78" textLength="42.68" lengthAdjust="spacingAndGlyphs">16.9</text>
</g>
<g id="t1">
<g clip-path="url(#ct1)"><path d="M117.25 1323.5L215.12 1339.7L313 1330L410.88 1323.8L508.75 1326.9L606.62 1330.3L704.5 1333.7L802.38 1333.4L900.25 1337.1L998.12 1340.6L1096 1341.7L1193.88 1335.1L1291.75 1336.9L1389.62 1337.9L1487.5 1336.3L1585.38 1334.6L1683.25 1334.6" stroke="#f00" stroke-width="2.08"/></g>
<g clip-path="url(#ct1)"><path d="M117.25 1474.6L215.12 1512.5L313 1496.6L410.88 1483.8L508.75 1490.3L606.62 1499.4L704.5 1512.2L802.38 1509.1L900.25 1514.2L998.12 1513.4L1096 1509.4L1193.88 1507.7L1291.75 1509.8L1389.62 1510.8L1487.5 1518L1585.38 1512.1L1683.25 1512.1" stroke="#008000" stroke-width="2.08"/></g>
<g clip-path="url(#ct1)"><path d="M117.25 1488L215.12 1489.7L313 1490.3L410.88 1485.2L508.75 1485.7L606.62 1480.6L704.5 1472.1L802.38 1479.2L900.25 1481.5L998.12 1490.3L1096 1494.6L1193.88 1484.9L1291.75 1487.5L1389.62 1483.6L1487.5 1471.2L1585.38 1479L1683.25 1480" stroke="#00f" stroke-width="2.08"/></g>
<g clip-path="url(#ct1)"><path d="M117 1444.5L1683 1444.5" stroke="#000" stroke-width="1.04" stroke-dasharray="12.5 12.5"/></g>
<rect x="117" y="1305" width="1566" height="222" fill="none" stroke="#000" stroke-width="2.08"/>
<path d="M509.5 1527v-8.33M509.5 1305v8.33M998.5 1527v-8.33M998.5 1305v8.33M1487.5 1527v-8.33M1487.5 1305v8.33M117 1527h8.33M1683 1527h-8.33M117 1499.5h8.33M1683 1499.5h-8.33M117 1472.5h8.33M1683 1472.5h-8.33M117 1444.5h8.33M1683 1444.5h-8.33M117 1416.5h8.33M1683 1416.5h-8.33M117 1388.5h8.33M1683 1388.5h-8.33M117 1361.5h8.33M1683 1361.5h-8.33M117 1333.5h8.33M1683 1333.5h-8.33M117 1305.7h8.33M1683 1305.7h-8.33" stroke="#000" stroke-width="1.04"/>
<text x="445.06" y="1550.33" font-size="17.58" textLength="127.88" lengthAdjust="spacingAndGlyphs">04/02 11:01:47</text>
<text x="934.38" y="1550.33" font-size="17.58" textLength="128" lengthAdjust="spacingAndGlyphs">04/02 11:01:52</text>
<text x="1423.81" y="1550.33" font-size="17.58" textLength="127.88" lengthAdjust="spacingAndGlyphs">04/02 11:01:57</text>
<text x="73.79" y="1532" font-size="17.58" textLength="34.88" lengthAdjust="spacingAndGlyphs">−60</text>
<text x="73.79" y="1504.95" font-size="17.58" textLength="34.88" lengthAdjust="spacingAndGlyphs">−40</text>
<text x="73.67" y="1477.2" font-size="17.58" textLength="35" lengthAdjust="spacingAndGlyphs">−20</text>
<text x="98.17" y="1449.45" font-size="17.58" textLength="10.5" lengthAdjust="spacingAndGlyphs">0</text>
<text x="87.54" y="1421.7" font-size="17.58" textLength="21.12" lengthAdjust="spacingAndGlyphs">20</text>
<text x="87.67" y="1393.95" font-size="17.58" textLength="21" lengthAdjust="spacingAndGlyphs">40</text>
<text x="87.67" y="1366.2" font-size="17.58" textLength="21" lengthAdjust="spacingAndGlyphs">60</text>
<text x="87.67" y="1338.45" font-size="17.58" textLength="21" lengthAdjust="spacingAndGlyphs">80</text>
<text x="77.04" y="1310.7" font-size="17.58" textLength="31.62" lengthAdjust="spacingAndGlyphs">100</text>
<g transform="translate(58.05 1440.5) rotate(-90)">
<text x="0" y="0" font-size="17.58" textLength="45" lengthAdjust="spacingAndGlyphs">B(nT)</text>
</g>
<text x="740.96" y="1294.58" font-size="24.18" textLength="318.08" lengthAdjust="spacingAndGlyphs">Magnetic Field (RTN Frame)</text>
<rect x="1603.96" y="1312.29" width="71.75" height="71.25" fill="#fff" stroke="#000" stroke-width="2.08"/>
<path d="M1614.17 1325.02L1634.58 1325.02" stroke="#f00" stroke-width="2.08"/>
<path d="M1614.17 1347.31L1634.58 1347.31" stroke="#008000" stroke-width="2.08"/>
<path d="M1614.17 1369.6L1634.58 1369.6" stroke="#00f" stroke-width="2.08"/>
<text x="1650.62" y="1330.12" font-size="17.06" textLength="16" lengthAdjust="spacingAndGlyphs">Br</text>
<text x="1650.62" y="1352.42" font-size="17.06" textLength="15.62" lengthAdjust="spacingAndGlyphs">Bt</text>
<text x="1650.62" y="1374.71" font-size="17.06" textLength="19.25" lengthAdjust="spacingAndGlyphs">Bn</text>
</g>
<g id="t2">
<g clip-path="url(#ct2)"><path d="M117.25 1821.1L215.12 1844.8L313 1835.9L410.88 1825.4L508.75 1829.4L606.62 1832.2L704.5 1834.5L802.38 1837.1L900.25 1841.6L998.12 1845.9L1096 1845.9L1193.88 1839.9L1291.75 1841.8L1389.62 1840.5L1487.5 1837.6L1585.38 1839.2L1683.25 1839.5" stroke="#f00" stroke-width="2.08"/></g>
<g clip-path="url(#ct2)"><path d="M117.25 1785L215.12 1761.1L313 1772.4L410.88 1777.3L508.75 1773.6L606.62 1764.2L704.5 1750.8L802.38 1756.8L900.25 1754.8L998.12 1761.3L1096 1765.9L1193.88 1761.6L1291.75 1761.6L1389.62 1758.3L1487.5 1746.2L1585.38 1754.7L1683.25 1755.4" stroke="#008000" stroke-width="2.08"/></g>
<g clip-path="url(#ct2)"><path d="M117.25 1664L215.12 1677.9L313 1669.4L410.88 1663.7L508.75 1666L606.62 1668.2L704.5 1669.7L802.38 1670.8L900.25 1673.6L998.12 1678.8L1096 1680.2L1193.88 1673.4L1291.75 1675.2L1389.62 1675.5L1487.5 1671.9L1585.38 1671.9L1683.25 1672.2" stroke="#00f" stroke-width="2.08"/></g>
<g clip-path="url(#ct2)"><path d="M117.25 1644.9L215.12 1644L313 1642.9L410.88 1644L508.75 1644L606.62 1644.6L704.5 1643.8L802.38 1643.8L900.25 1642.9L998.12 1644L1096 1644.9L1193.88 1643.8L1291.75 1644L1389.62 1644.7L1487.5 1643.1L1585.38 1642.7L1683.25 1642.7" stroke="#000" stroke-width="2.08"/></g>
<g clip-path="url(#ct2)"><path d="M117 1762.5L1683 1762.5" stroke="#000" stroke-width="1.04" stroke-dasharray="12.5 12.5"/></g>
<rect x="117" y="1639" width="1566" height="222" fill="none" stroke="#000" stroke-width="2.08"/>
<path d="M509.5 1861v-8.33M509.5 1639v8.33M998.5 1861v-8.33M998.5 1639v8.33M1487.5 1861v-8.33M1487.5 1639v8.33M117 1861h8.33M1683 1861h-8.33M117 1836.5h8.33M1683 1836.5h-8.33M117 1811.5h8.33M1683 1811.5h-8.33M117 1787.5h8.33M1683 1787.5h-8.33M117 1762.5h8.33M1683 1762.5h-8.33M117 1737.5h8.33M1683 1737.5h-8.33M117 1713.5h8.33M1683 1713.5h-8.33M117 1688.5h8.33M1683 1688.5h-8.33M117 1663.5h8.33M1683 1663.5h-8.33M117 1639.25h8.33M1683 1639.25h-8.33" stroke="#000" stroke-width="1.04"/>
<text x="445.06" y="1884.33" font-size="17.58" textLength="127.88" lengthAdjust="spacingAndGlyphs">04/02 11:01:47</text>
<text x="934.38" y="1884.33" font-size="17.58" textLength="128" lengthAdjust="spacingAndGlyphs">04/02 11:01:52</text>
<text x="1423.81" y="1884.33" font-size="17.58" textLength="127.88" lengthAdjust="spacingAndGlyphs">04/02 11:01:57</text>
<text x="73.79" y="1866" font-size="17.58" textLength="34.88" lengthAdjust="spacingAndGlyphs">−80</text>
<text x="73.79" y="1841.58" font-size="17.58" textLength="34.88" lengthAdjust="spacingAndGlyphs">−60</text>
<text x="73.79" y="1816.92" font-size="17.58" textLength="34.88" lengthAdjust="spacingAndGlyphs">−40</text>
<text x="73.67" y="1792.25" font-size="17.58" textLength="35" lengthAdjust="spacingAndGlyphs">−20</text>
<text x="98.17" y="1767.58" font-size="17.58" textLength="10.5" lengthAdjust="spacingAndGlyphs">0</text>
<text x="87.54" y="1742.92" font-size="17.58" textLength="21.12" lengthAdjust="spacingAndGlyphs">20</text>
<text x="87.67" y="1718.25" font-size="17.58" textLength="21" lengthAdjust="spacingAndGlyphs">40</text>
<text x="87.67" y="1693.58" font-size="17.58" textLength="21" lengthAdjust="spacingAndGlyphs">60</text>
<text x="87.67" y="1668.92" font-size="17.58" textLength="21" lengthAdjust="spacingAndGlyphs">80</text>
<text x="77.04" y="1644.25" font-size="17.58" textLength="31.62" lengthAdjust="spacingAndGlyphs">100</text>
<g transform="translate(58.05 1774.5) rotate(-90)">
<text x="0" y="0" font-size="17.58" textLength="45" lengthAdjust="spacingAndGlyphs">B(nT)</text>
</g>
<text x="707.09" y="1628.58" font-size="24.18" textLength="385.83" lengthAdjust="spacingAndGlyphs">Magnetic Field (Flux Rope Frame)</text>
<rect x="1600.71" y="1646.29" width="75" height="94.54" fill="#fff" stroke="#000" stroke-width="2.08"/>
<path d="M1610.92 1659.02L1631.33 1659.02" stroke="#f00" stroke-width="2.08"/>
<path d="M1610.92 1681.31L1631.33 1681.31" stroke="#008000" stroke-width="2.08"/>
<path d="M1610.92 1703.6L1631.33 1703.6" stroke="#00f" stroke-width="2.08"/>
<path d="M1610.92 1725.9L1631.33 1725.9" stroke="#000" stroke-width="2.08"/>
<text x="1647.37" y="1664.13" font-size="17.06" textLength="22.5" lengthAdjust="spacingAndGlyphs">Bx&#x27;</text>
<text x="1647.37" y="1686.42" font-size="17.06" textLength="22.5" lengthAdjust="spacingAndGlyphs">By&#x27;</text>
<text x="1647.37" y="1708.71" font-size="17.06" textLength="21.5" lengthAdjust="spacingAndGlyphs">Bz&#x27;</text>
<text x="1647.37" y="1731" font-size="17.06" textLength="19.88" lengthAdjust="spacingAndGlyphs">|B|</text>
</g>
<g id="t3">
<g clip-path="url(#ct3)"><path d="M117.25 1994.5L215.12 1983.6L313 1994.5L410.88 1990.8L508.75 1992.5L606.62 1984.8L704.5 1988.8L802.38 1985.3L900.25 1983.1L998.12 1980.8L1096 1982.8L1193.88 1985.3L1291.75 1984.9L1389.62 1984.6L1487.5 1983.3L1585.38 1986.2L1683.25 1985.6" stroke="#f00" stroke-width="2.08"/></g>
<g clip-path="url(#ct3)"><path d="M117.25 2189.2L215.12 2162.7L313 2172.4L410.88 2167L508.75 2169.8L606.62 2164.1L704.5 2161.6L802.38 2163L900.25 2161L998.12 2161.9L1096 2163.3L1193.88 2165L1291.75 2161.7L1389.62 2159.1L1487.5 2156.8L1585.38 2160.8L1683.25 2163.4" stroke="#008000" stroke-width="2.08"/></g>
<g clip-path="url(#ct3)"><path d="M117.25 2133.4L215.12 2132.5L313 2136.5L410.88 2130.8L508.75 2134L606.62 2136.8L704.5 2142.8L802.38 2138.2L900.25 2134L998.12 2129.1L1096 2131.7L1193.88 2134L1291.75 2130.3L1389.62 2138.2L1487.5 2140.5L1585.38 2136.9L1683.25 2136.9" stroke="#00f" stroke-width="2.08"/></g>
<rect x="117" y="1972" width="1566" height="222" fill="none" stroke="#000" stroke-width="2.08"/>
<path d="M509.5 2194v-8.33M509.5 1972v8.33M998.5 2194v-8.33M998.5 1972v8.33M1487.5 2194v-8.33M1487.5 1972v8.33M117 2194h8.33M1683 2194h-8.33M117 2150.5h8.33M1683 2150.5h-8.33M117 2106.5h8.33M1683 2106.5h-8.33M117 2061.5h8.33M1683 2061.5h-8.33M117 2017.5h8.33M1683 2017.5h-8.33M117 1972.8h8.33M1683 1972.8h-8.33" stroke="#000" stroke-width="1.04"/>
<text x="445.06" y="2217.33" font-size="17.58" textLength="127.88" lengthAdjust="spacingAndGlyphs">04/02 11:01:47</text>
<text x="934.38" y="2217.33" font-size="17.58" textLength="128" lengthAdjust="spacingAndGlyphs">04/02 11:01:52</text>
<text x="1423.81" y="2217.33" font-size="17.58" textLength="127.88" lengthAdjust="spacingAndGlyphs">04/02 11:01:57</text>
<text x="63.17" y="2199" font-size="17.58" textLength="45.5" lengthAdjust="spacingAndGlyphs">−100</text>
<text x="98.17" y="2155.4" font-size="17.58" textLength="10.5" lengthAdjust="spacingAndGlyphs">0</text>
<text x="77.04" y="2111" font-size="17.58" textLength="31.62" lengthAdjust="spacingAndGlyphs">100</text>
<text x="77.04" y="2066.6" font-size="17.58" textLength="31.62" lengthAdjust="spacingAndGlyphs">200</text>
<text x="77.04" y="2022.2" font-size="17.58" textLength="31.62" lengthAdjust="spacingAndGlyphs">300</text>
<text x="77.17" y="1977.8" font-size="17.58" textLength="31.5" lengthAdjust="spacingAndGlyphs">400</text>
<g transform="translate(47.55 2128.5) rotate(-90)">
<text x="0" y="0" font-size="17.58" textLength="87" lengthAdjust="spacingAndGlyphs">Vsw(km/s)</text>
</g>
<text x="713.04" y="1961.58" font-size="24.18" textLength="373.92" lengthAdjust="spacingAndGlyphs">Solar Wind Velocity (RTN Frame)</text>
<rect x="1603.83" y="1979.29" width="71.88" height="71.25" fill="#fff" stroke="#000" stroke-width="2.08"/>
<path d="M1614.04 1992.02L1634.46 1992.02" stroke="#f00" stroke-width="2.08"/>
<path d="M1614.04 2014.31L1634.46 2014.31" stroke="#008000" stroke-width="2.08"/>
<path d="M1614.04 2036.6L1634.46 2036.6" stroke="#00f" stroke-width="2.08"/>
<text x="1650.5" y="1997.12" font-size="17.06" textLength="16.12" lengthAdjust="spacingAndGlyphs">Vr</text>
<text x="1650.5" y="2019.42" font-size="17.06" textLength="15.75" lengthAdjust="spacingAndGlyphs">Vt</text>
<text x="1650.5" y="2041.71" font-size="17.06" textLength="19.38" lengthAdjust="spacingAndGlyphs">Vn</text>
</g>
<g id="t4">
<g clip-path="url(#ct4)"><path d="M117.25 2484.4L215.12 2403.6L313 2519.4L410.88 2510.9L508.75 2447.1L606.62 2324.1L704.5 2398.2L802.38 2446.6L900.25 2455.1L998.12 2390.2L1096 2400.2L1193.88 2419.5L1291.75 2450.5L1389.62 2427.6L1487.5 2446.6L1585.38 2421.4L1683.25 2441" stroke="#00f" stroke-width="2.08"/></g>
<rect x="117" y="2306" width="1566" height="222" fill="none" stroke="#000" stroke-width="2.08"/>
<path d="M509.5 2528v-8.33M509.5 2306v8.33M998.5 2528v-8.33M998.5 2306v8.33M1487.5 2528v-8.33M1487.5 2306v8.33M117 2506.5h8.33M1683 2506.5h-8.33M117 2461.5h8.33M1683 2461.5h-8.33M117 2417.5h8.33M1683 2417.5h-8.33M117 2372.5h8.33M1683 2372.5h-8.33M117 2328.5h8.33M1683 2328.5h-8.33" stroke="#000" stroke-width="1.04"/>
<text x="445.06" y="2551.33" font-size="17.58" textLength="127.88" lengthAdjust="spacingAndGlyphs">04/02 11:01:47</text>
<text x="934.38" y="2551.33" font-size="17.58" textLength="128" lengthAdjust="spacingAndGlyphs">04/02 11:01:52</text>
<text x="1423.81" y="2551.33" font-size="17.58" textLength="127.88" lengthAdjust="spacingAndGlyphs">04/02 11:01:57</text>
<text x="71.92" y="2511.15" font-size="17.58" textLength="36.75" lengthAdjust="spacingAndGlyphs">0.08</text>
<text x="71.79" y="2466.75" font-size="17.58" textLength="36.88" lengthAdjust="spacingAndGlyphs">0.10</text>
<text x="71.67" y="2422.35" font-size="17.58" textLength="37" lengthAdjust="spacingAndGlyphs">0.12</text>
<text x="71.79" y="2377.95" font-size="17.58" textLength="36.88" lengthAdjust="spacingAndGlyphs">0.14</text>
<text x="71.79" y="2333.55" font-size="17.58" textLength="36.88" lengthAdjust="spacingAndGlyphs">0.16</text>
<g transform="translate(51.92 2425.6) rotate(-90)">
<text x="0" y="0" font-size="17.58" textLength="17.2" lengthAdjust="spacingAndGlyphs"><tspan class="mi" font-size="17">β</tspan><tspan class="mi" font-size="11.9" dy="3.74">p</tspan></text>
</g>
<text x="828.81" y="2295.58" font-size="24.18" textLength="142.38" lengthAdjust="spacingAndGlyphs">Plasma Beta</text>
</g>
<g id="t5">
<g clip-path="url(#ct5)"><path d="M117.25 2639.8L215.12 2775.6L313 2800.1L410.88 2827.7L508.75 2714.1L606.62 2656L704.5 2703L802.38 2759.1L900.25 2831.1L998.12 2765.7L1096 2762.2L1193.88 2758.8L1291.75 2808.4L1389.62 2776.3L1487.5 2813.3L1585.38 2746.9L1683.25 2801.2" stroke="#00f" stroke-width="2.08"/></g>
<rect x="117" y="2639" width="1566" height="222" fill="none" stroke="#000" stroke-width="2.08"/>
<path d="M509.5 2861v-8.33M509.5 2639v8.33M998.5 2861v-8.33M998.5 2639v8.33M1487.5 2861v-8.33M1487.5 2639v8.33M117 2861h8.33M1683 2861h-8.33M117 2817.5h8.33M1683 2817.5h-8.33M117 2773.5h8.33M1683 2773.5h-8.33M117 2728.5h8.33M1683 2728.5h-8.33M117 2684.5h8.33M1683 2684.5h-8.33M117 2639.9h8.33M1683 2639.9h-8.33" stroke="#000" stroke-width="1.04"/>
<text x="445.06" y="2884.33" font-size="17.58" textLength="127.88" lengthAdjust="spacingAndGlyphs">04/02 11:01:47</text>
<text x="934.38" y="2884.33" font-size="17.58" textLength="128" lengthAdjust="spacingAndGlyphs">04/02 11:01:52</text>
<text x="1423.81" y="2884.33" font-size="17.58" textLength="127.88" lengthAdjust="spacingAndGlyphs">04/02 11:01:57</text>
<text x="76.92" y="2866" font-size="17.58" textLength="31.75" lengthAdjust="spacingAndGlyphs">110</text>
<text x="76.92" y="2822.5" font-size="17.58" textLength="31.75" lengthAdjust="spacingAndGlyphs">115</text>
<text x="76.92" y="2778.1" font-size="17.58" textLength="31.75" lengthAdjust="spacingAndGlyphs">120</text>
<text x="76.92" y="2733.7" font-size="17.58" textLength="31.75" lengthAdjust="spacingAndGlyphs">125</text>
<text x="76.92" y="2689.3" font-size="17.58" textLength="31.75" lengthAdjust="spacingAndGlyphs">130</text>
<text x="76.92" y="2644.9" font-size="17.58" textLength="31.75" lengthAdjust="spacingAndGlyphs">135</text>
<g transform="translate(61.3 2788.81) rotate(-90)">
<text x="0" y="0" font-size="17.58" textLength="73.62" lengthAdjust="spacingAndGlyphs">Np(#/cc)</text>
</g>
<text x="764.38" y="2628.58" font-size="24.18" textLength="271.23" lengthAdjust="spacingAndGlyphs">Proton Number Density</text>
</g>
<g id="t6">
<g clip-path="url(#ct6)"><path d="M117.25 3177L215.12 3033L313 3183L410.88 3167.7L508.75 3110.1L606.62 2979.2L704.5 3050.4L802.38 3094.8L900.25 3080.8L998.12 3017.6L1096 3039L1193.88 3061.7L1291.75 3085.4L1389.62 3072.4L1487.5 3075.6L1585.38 3061.5L1683.25 3072.7" stroke="#00f" stroke-width="2.08"/></g>
<rect x="117" y="2973" width="1566" height="222" fill="none" stroke="#000" stroke-width="2.08"/>
<path d="M509.5 3195v-8.33M509.5 2973v8.33M998.5 3195v-8.33M998.5 2973v8.33M1487.5 3195v-8.33M1487.5 2973v8.33M117 3195h8.33M1683 3195h-8.33M117 3167.5h8.33M1683 3167.5h-8.33M117 3139.5h8.33M1683 3139.5h-8.33M117 3112.5h8.33M1683 3112.5h-8.33M117 3084.5h8.33M1683 3084.5h-8.33M117 3056.5h8.33M1683 3056.5h-8.33M117 3028.5h8.33M1683 3028.5h-8.33M117 3000.5h8.33M1683 3000.5h-8.33M117 2973.2h8.33M1683 2973.2h-8.33" stroke="#000" stroke-width="1.04"/>
<text x="445.06" y="3218.33" font-size="17.58" textLength="127.88" lengthAdjust="spacingAndGlyphs">04/02 11:01:47</text>
<text x="934.38" y="3218.33" font-size="17.58" textLength="128" lengthAdjust="spacingAndGlyphs">04/02 11:01:52</text>
<text x="1423.81" y="3218.33" font-size="17.58" textLength="127.88" lengthAdjust="spacingAndGlyphs">04/02 11:01:57</text>
<text x="71.79" y="3200" font-size="17.58" textLength="36.88" lengthAdjust="spacingAndGlyphs">0.16</text>
<text x="71.79" y="3172.7" font-size="17.58" textLength="36.88" lengthAdjust="spacingAndGlyphs">0.18</text>
<text x="71.79" y="3144.9" font-size="17.58" textLength="36.88" lengthAdjust="spacingAndGlyphs">0.20</text>
<text x="71.67" y="3117.2" font-size="17.58" textLength="37" lengthAdjust="spacingAndGlyphs">0.22</text>
<text x="71.79" y="3089.4" font-size="17.58" textLength="36.88" lengthAdjust="spacingAndGlyphs">0.24</text>
<text x="71.79" y="3061.7" font-size="17.58" textLength="36.88" lengthAdjust="spacingAndGlyphs">0.26</text>
<text x="71.79" y="3033.9" font-size="17.58" textLength="36.88" lengthAdjust="spacingAndGlyphs">0.28</text>
<text x="71.79" y="3005.9" font-size="17.58" textLength="36.88" lengthAdjust="spacingAndGlyphs">0.30</text>
<text x="71.67" y="2978.2" font-size="17.58" textLength="37" lengthAdjust="spacingAndGlyphs">0.32</text>
<g transform="translate(52.75 3118.74) rotate(-90)">
<text x="0" y="0" font-size="17.58" textLength="27.2" lengthAdjust="spacingAndGlyphs">Tp(</text>
<text x="27.7" y="0" font-size="17.58" textLength="23.85" lengthAdjust="spacingAndGlyphs"><tspan class="mr" font-size="17">10</tspan><tspan class="mr" font-size="11.9" dy="-7.14">6</tspan></text>
<text x="52.06" y="0" font-size="17.58" textLength="17.42" lengthAdjust="spacingAndGlyphs">K)</text>
</g>
<text x="724.85" y="2960.58" font-size="24.18" textLength="284.39" lengthAdjust="spacingAndGlyphs">Proton Temperature and</text>
<text x="1017.18" y="2960.58" font-size="24.18" textLength="57.47" lengthAdjust="spacingAndGlyphs"><tspan class="mi" font-size="23.38">T</tspan><tspan class="mi" font-size="16.36" dy="5.14">e</tspan><tspan class="mr" font-size="23.38" dy="-5.14">/</tspan><tspan class="mi" font-size="23.38">T</tspan><tspan class="mi" font-size="16.36" dy="5.14">p</tspan></text>
<rect x="124.29" y="2980.29" width="70.75" height="26.67" fill="#fff" stroke="#000" stroke-width="2.08"/>
<path d="M134.5 2993.02L154.92 2993.02" stroke="#00f" stroke-width="2.08"/>
<text x="170.96" y="2998.12" font-size="17.06" textLength="18.25" lengthAdjust="spacingAndGlyphs">Tp</text>
</g>
<rect x="125.4" y="668.7" width="145.1" height="72" fill="#fff" stroke="#000" stroke-width="2.08"/>
<text x="128.5" y="686.5" font-size="19.78" textLength="135.5" lengthAdjust="spacingAndGlyphs">slope = -0.829</text>
<text x="129" y="708.6" font-size="19.78" textLength="8.93" lengthAdjust="spacingAndGlyphs"><tspan class="mi" font-size="19.12">r</tspan></text>
<text x="144.32" y="708.6" font-size="19.78" textLength="80.18" lengthAdjust="spacingAndGlyphs">= -0.998</text>
<text x="129" y="730.6" font-size="19.78" textLength="28.33" lengthAdjust="spacingAndGlyphs"><tspan class="mi" font-size="19.12">M</tspan><tspan class="mi" font-size="13.39" dy="4.21">A</tspan></text>
<text x="163.76" y="730.6" font-size="19.78" textLength="74.24" lengthAdjust="spacingAndGlyphs">= 0.832</text>
</svg>
</body></html>
